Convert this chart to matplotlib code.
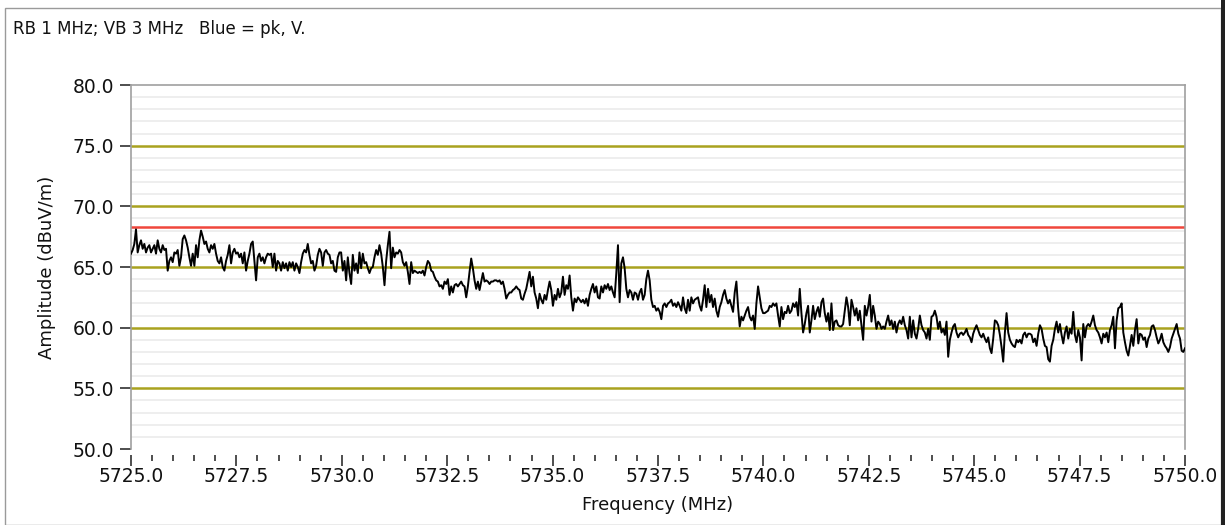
import numpy as np
import matplotlib
matplotlib.use("Agg")
import matplotlib.pyplot as plt
from matplotlib.patches import Rectangle
from matplotlib.ticker import MultipleLocator, FormatStrFormatter


TITLE = "RB 1 MHz; VB 3 MHz   Blue = pk, V."
F_START = 5725.0
F_STOP = 5750.0
LIMIT = 68.3  # band edge limit line, dBuV/m
GRID_LEVELS = [55.0, 60.0, 65.0, 70.0, 75.0]

# peak trace, left to right (dBuV/m)
amp_seg1 = [
    66.1, 66.4, 66.9, 68.1, 66.2, 66.8, 67.2, 66.5, 66.9, 66.2, 66.6, 66.8, 66.2, 66.5, 66.8, 66.1,
    67.2, 66.5, 66.2, 66.8, 66.4, 66.5, 64.7, 65.5, 65.8, 65.4, 66.2, 66.1, 66.4, 65.1, 65.8, 67.3,
    67.6, 67.2, 66.6, 65.8, 65.1, 66.1, 65.1, 66.8, 65.8, 67.2, 68.0, 67.5, 66.9, 67.1, 66.5, 66.2,
    66.8, 66.5, 66.9, 66.1, 65.5, 65.3, 65.8, 65.0, 64.7, 65.5, 66.0, 66.8, 65.3, 66.2, 66.5, 66.1,
    66.2, 65.8, 66.1, 65.3, 66.2, 64.7, 65.5, 66.1, 66.9, 67.1, 65.5, 63.9, 65.8, 66.1, 65.5, 65.8,
    65.3, 65.8, 66.1, 66.0, 66.1, 65.0, 66.1, 64.7, 65.5, 65.3, 64.7, 65.4, 64.9, 65.3, 64.7, 65.4,
    65.0, 65.4, 64.7, 65.3, 65.0, 64.5, 65.4, 66.1, 66.4, 66.2, 66.9, 66.0, 65.3, 65.5, 64.7, 65.1,
    66.0, 66.5, 66.2, 65.1, 66.2, 66.4, 66.1, 66.0, 65.3, 65.5, 64.7, 64.6, 65.8, 66.2,
]
amp_seg2 = [
    66.2, 64.7, 65.5, 63.9, 65.8, 64.5, 63.6, 66.0, 64.7, 65.3, 64.5, 66.2, 64.9, 66.1, 65.3, 65.4,
    64.9, 64.5, 64.9, 65.0, 65.8, 66.4, 66.0, 66.8, 66.1, 65.0, 63.5, 65.5, 66.8, 67.9, 64.9, 66.6,
    65.8, 66.2, 66.1, 66.4, 66.2, 65.4, 65.1, 65.4, 64.6, 63.6, 65.4, 64.5, 64.7, 64.6, 64.5, 64.6,
    64.5, 64.7, 64.3, 65.0, 65.5, 65.3, 64.7, 64.6, 64.2, 63.9, 63.8, 63.4, 63.5, 63.2, 63.8, 63.6,
    64.0, 62.7, 63.4, 62.9, 63.5, 63.6, 63.4, 63.6, 63.8, 63.5, 63.4, 62.5, 63.4, 64.6, 65.7, 64.9,
    63.9, 63.2, 63.8, 63.1, 63.8, 64.5, 63.8, 63.9, 63.8, 63.6, 63.8, 63.8, 63.9, 63.9, 63.8, 63.9,
    63.6, 63.8, 63.2, 62.4, 62.7, 62.9, 62.9, 63.1, 63.2, 63.4, 63.2, 63.1, 62.4, 62.3, 62.8, 63.2,
    63.9, 64.6, 63.4, 64.2, 62.9, 62.4, 61.6, 62.8, 62.3, 62.0, 62.7, 62.3, 63.1, 63.8, 63.1, 61.8,
]
amp_seg3 = [
    62.7, 62.3, 63.2, 62.5, 62.9, 64.2, 62.7, 63.5, 63.2, 64.3, 62.5, 61.4, 62.4, 62.1, 62.5, 62.3,
    62.1, 62.3, 62.0, 62.4, 61.8, 62.7, 63.2, 63.6, 62.9, 63.4, 62.5, 62.4, 63.4, 62.9, 63.5, 63.2,
    63.6, 63.1, 63.4, 62.9, 62.5, 64.5, 66.8, 62.1, 65.3, 65.8, 64.9, 63.2, 62.5, 63.1, 62.9, 62.3,
    62.9, 62.8, 62.3, 62.9, 63.2, 62.3, 62.7, 64.0, 64.7, 63.9, 62.3, 61.7, 61.8, 61.4, 61.6, 61.3,
    60.7, 61.8, 62.0, 61.7, 62.0, 62.1, 62.3, 61.8, 62.0, 61.7, 62.1, 61.8, 61.4, 62.5, 61.6, 61.2,
    62.3, 61.4, 62.5, 62.0, 62.3, 62.4, 62.5, 61.8, 61.4, 62.3, 63.5, 61.7, 63.2, 62.1, 62.7, 61.7,
    62.4, 61.4, 60.9, 61.7, 62.1, 62.7, 63.1, 62.4, 62.0, 62.3, 61.8, 61.3, 62.9, 63.8, 61.7, 60.1,
    60.9, 60.6, 61.0, 61.4, 61.7, 60.9, 60.6, 61.0, 59.9, 62.0, 63.4, 62.5, 61.6, 61.2, 61.2,
]
amp_seg4 = [
    61.3, 61.4, 61.8, 61.7, 62.0, 61.8, 62.0, 61.0, 60.1, 61.7, 60.7, 61.3, 61.2, 61.8, 61.2, 61.4,
    62.0, 61.7, 62.1, 61.0, 63.2, 61.2, 59.6, 60.3, 61.2, 61.8, 59.6, 60.6, 61.8, 60.7, 61.3, 61.7,
    60.9, 62.1, 62.4, 61.2, 60.5, 61.2, 59.8, 62.0, 59.8, 60.5, 60.6, 60.2, 60.1, 60.1, 60.3, 61.4,
    62.5, 61.7, 60.2, 62.3, 61.7, 61.0, 61.6, 60.6, 61.4, 60.2, 59.0, 61.8, 61.0, 61.7, 62.7, 60.5,
    61.8, 61.0, 59.9, 60.5, 60.3, 59.9, 60.1, 59.9, 60.5, 61.0, 60.2, 60.6, 59.9, 60.5, 59.6, 60.3,
    60.6, 60.3, 60.9, 60.2, 59.8, 59.1, 60.9, 59.2, 60.6, 59.5, 59.1, 59.9, 61.0, 60.2, 59.8, 59.6,
    59.1, 59.9, 59.0, 60.9, 61.0, 61.4, 60.9, 59.9, 60.5, 59.6, 59.9, 59.4, 60.5, 57.6, 59.0, 59.6,
    60.1, 60.3, 59.6, 59.2, 59.5, 59.6, 59.4, 59.6, 59.9, 59.4, 59.2, 58.8, 59.5, 59.9, 60.2,
]
amp_seg5 = [
    59.8, 59.4, 59.2, 59.5, 59.1, 58.8, 59.2, 58.3, 57.9, 59.1, 60.6, 60.5, 60.2, 59.4, 58.4, 57.2,
    59.6, 61.2, 59.6, 59.0, 58.7, 58.5, 58.4, 59.0, 58.8, 59.0, 58.7, 59.4, 59.6, 59.2, 59.5, 59.5,
    59.4, 58.8, 59.1, 58.5, 59.5, 60.2, 59.9, 59.1, 58.5, 58.4, 57.4, 57.2, 58.5, 59.0, 59.9, 60.5,
    59.6, 60.3, 59.4, 58.7, 59.6, 60.1, 59.1, 59.9, 59.5, 61.3, 59.4, 58.8, 59.8, 59.2, 57.3, 60.3,
    59.2, 60.1, 60.3, 60.1, 60.5, 61.0, 60.2, 59.8, 59.6, 59.2, 58.7, 59.5, 59.2, 59.6, 58.8, 59.8,
    60.2, 60.9, 58.3, 60.6, 61.6, 61.7, 62.0, 59.6, 58.8, 58.1, 57.7, 58.5, 59.4, 58.5, 59.8, 60.7,
    58.7, 59.5, 59.4, 59.0, 59.2, 58.4, 59.1, 59.4, 60.1, 60.2, 59.8, 59.2, 58.7, 59.0, 59.5, 58.8,
    58.5, 58.3, 58.0, 58.4, 59.1, 59.5, 59.9, 60.3, 59.5, 59.1, 58.1, 58.0, 58.3,
]

amplitude = np.array(amp_seg1 + amp_seg2 + amp_seg3 + amp_seg4 + amp_seg5)
frequency = np.linspace(F_START, F_STOP, len(amplitude))

plt.rcParams["font.family"] = ["DejaVu Sans"]
W, H = 1225, 525
fig = plt.figure(figsize=(W / 100, H / 100), dpi=100)
fig.patch.set_facecolor("white")

# outer panel frame
fig.add_artist(Rectangle((5 / W, 0), 1216 / W, 1 - 8 / H, transform=fig.transFigure,
                         fill=False, edgecolor="#9a9a9a", linewidth=1.0))
fig.add_artist(Rectangle((1221 / W, 0), 4 / W, 1, transform=fig.transFigure,
                         facecolor="#202020", edgecolor="none"))

ax = fig.add_axes([131 / W, 1 - 449 / H, 1054 / W, 364 / H])
ax.set_xlim(F_START, F_STOP)
ax.set_ylim(50, 80)

# light 1 dB grid, olive 5 dB lines, red limit line
for level in range(51, 80):
    if level % 5:
        ax.axhline(level, color="#ebebeb", linewidth=1.2, zorder=1)
for level in GRID_LEVELS:
    ax.axhline(level, color="#a9a21f", linewidth=1.8, zorder=2)
ax.axhline(LIMIT, color="#f0463c", linewidth=1.8, zorder=2)

ax.plot(frequency, amplitude, color="black", linewidth=1.4, zorder=3)

ax.yaxis.set_major_locator(MultipleLocator(5))
ax.yaxis.set_major_formatter(FormatStrFormatter("%.1f"))
ax.xaxis.set_major_locator(MultipleLocator(2.5))
ax.xaxis.set_minor_locator(MultipleLocator(0.5))
ax.xaxis.set_major_formatter(FormatStrFormatter("%.1f"))
ax.tick_params(axis="y", direction="out", length=8, width=1.2, color="#303030",
               labelsize=13.5, pad=4, labelcolor="#111111")
ax.tick_params(axis="x", which="major", direction="out", length=8, width=1.2,
               color="#303030", labelsize=13.5, pad=1, labelcolor="#111111")
ax.tick_params(axis="x", which="minor", direction="out", length=4, width=1.2, color="#303030")

for side in ["top", "left", "right"]:
    ax.spines[side].set_color("#a0a0a0")
    ax.spines[side].set_linewidth(1.2)
ax.spines["bottom"].set_position(("outward", 4))
ax.spines["bottom"].set_visible(False)

ax.set_ylabel("Amplitude (dBuV/m)", fontsize=13, labelpad=12, color="#111111")
ax.set_xlabel("Frequency (MHz)", fontsize=13, labelpad=7, color="#111111")
fig.text(13 / W, 1 - 29 / H, TITLE, fontsize=12, va="center", ha="left", color="#111111")

fig.savefig("out.png", dpi=100)
